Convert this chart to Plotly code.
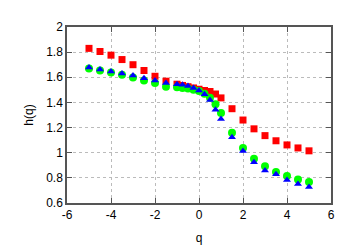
import plotly.graph_objects as go

q = [-5, -4.5, -4, -3.5, -3, -2.5, -2, -1.5, -1, -0.75, -0.5, -0.25, 0, 0.25, 0.5, 0.75, 1,
     1.5, 2, 2.5, 3, 3.5, 4, 4.5, 5]
h_red = [1.830, 1.805, 1.776, 1.741, 1.700, 1.654, 1.608, 1.569, 1.545, 1.535, 1.525, 1.515,
         1.505, 1.495, 1.487, 1.467, 1.436, 1.350, 1.260, 1.190, 1.136, 1.095, 1.062, 1.038, 1.015]
h_green = [1.669, 1.654, 1.638, 1.620, 1.598, 1.575, 1.554, 1.525, 1.520, 1.515, 1.510, 1.500,
           1.490, 1.470, 1.438, 1.385, 1.315, 1.159, 1.038, 0.951, 0.892, 0.846, 0.815, 0.787, 0.767]
h_blue = [1.677, 1.662, 1.646, 1.631, 1.615, 1.592, 1.575, 1.554, 1.545, 1.540, 1.530, 1.515,
          1.495, 1.465, 1.420, 1.341, 1.269, 1.123, 1.013, 0.925, 0.859, 0.828, 0.782, 0.751, 0.728]

x_ticks = [-6, -4, -2, 0, 2, 4, 6]
y_ticks = [0.6, 0.8, 1, 1.2, 1.4, 1.6, 1.8, 2]
y_labels = ["0.6", "0.8", "1", "1.2", "1.4", "1.6", "1.8", "2"]

fig = go.Figure()
fig.add_trace(go.Scatter(x=q, y=h_red, mode="markers",
                         marker=dict(symbol="square", size=7, color="#ff0000")))
fig.add_trace(go.Scatter(x=q, y=h_green, mode="markers",
                         marker=dict(symbol="circle", size=8, color="#00ff00")))
fig.add_trace(go.Scatter(x=q, y=h_blue, mode="markers",
                         marker=dict(symbol="triangle-up", size=7, color="#0000ff")))

axis_common = dict(showline=True, linecolor="#555555", linewidth=1.5, mirror="ticks",
                   ticks="inside", ticklen=5, tickcolor="#555555",
                   showgrid=True, gridcolor="#bbbbbb", griddash="dot", gridwidth=1,
                   zeroline=False, tickfont=dict(family="Liberation Sans, Arial", size=12, color="#000"))

fig.update_xaxes(range=[-6, 6], tickvals=x_ticks, ticktext=[str(v) for v in x_ticks],
                 title=dict(text="q", font=dict(family="Liberation Sans, Arial", size=12, color="#000"),
                            standoff=12),
                 **axis_common)
fig.update_yaxes(range=[0.6, 2], tickvals=y_ticks, ticktext=y_labels,
                 title=dict(text="h(q)", font=dict(family="Liberation Sans, Arial", size=12, color="#000"),
                            standoff=10),
                 **axis_common)

fig.update_layout(width=346, height=247, showlegend=False,
                  margin=dict(l=59, r=23, t=16, b=49),
                  plot_bgcolor="white", paper_bgcolor="white")

fig.write_html("out.html")
